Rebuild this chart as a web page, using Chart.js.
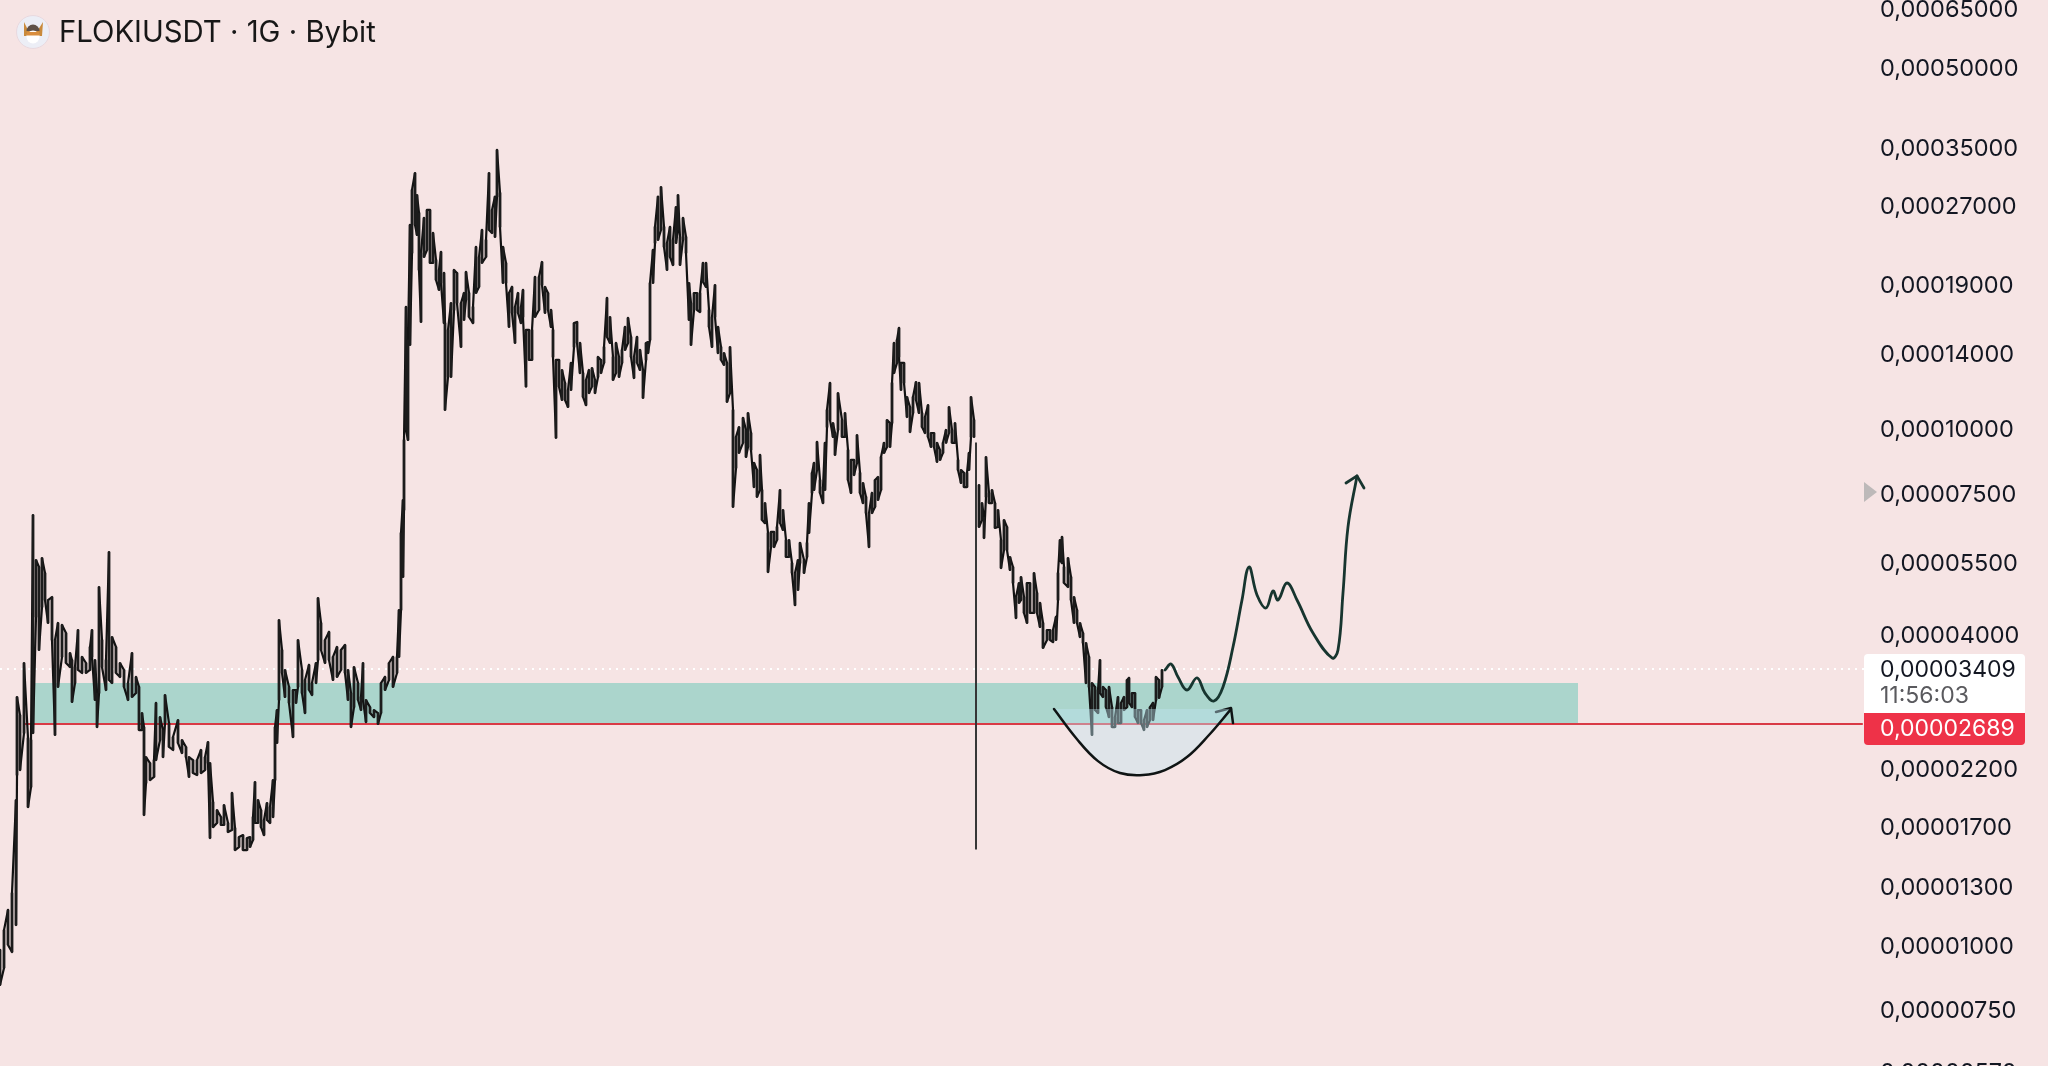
<!DOCTYPE html>
<html><head><meta charset="utf-8">
<style>html,body{margin:0;padding:0;background:#f6e4e4;overflow:hidden}#w{width:2048px;height:1066px}</style>
<script src="https://cdn.jsdelivr.net/npm/chart.js@4"></script>
</head><body><div id="w"><canvas id="c" width="2048" height="1066"></canvas></div>
<script>
// Prices are in units of 0.00000001 USDT
const sessions=[0,4,8,12,16,17,20,24,28,31,
33,36,39,42,45,48,52,55,58,62,
66,70,72,75,78,82,86,90,92,95,
97,99,102,106,109,112,116,120,124,128,
132,136,139,142,144,146,150,154,156,160,
163,165,169,173,178,182,186,189,193,197,
201,205,208,210,213,217,221,224,228,232,
235,239,243,247,250,253,255,258,261,264,
267,270,273,275,277,279,282,285,289,293,
296,298,302,305,309,312,316,318,321,325,
329,333,337,341,345,348,351,354,358,361,
363,366,370,374,378,381,385,389,393,397,
399,401,403,404,406,408,410,412,415,417,
419,421,424,427,430,433,436,439,441,444,
445,448,451,454,457,461,464,466,469,473,
476,479,482,486,489,492,495,497,500,503,
506,509,512,515,518,521,523,526,529,532,
535,539,542,545,548,551,553,556,559,562,
565,568,571,574,577,580,583,586,589,592,
595,598,601,604,607,610,613,616,619,622,
625,628,631,634,637,640,643,646,648,650,
653,655,658,661,664,667,670,673,676,678,
680,683,686,689,691,694,697,700,703,706,
709,712,715,718,721,724,727,730,733,736,
739,743,746,748,751,754,757,760,762,765,
768,771,774,777,780,783,786,789,792,795,
798,800,804,807,809,812,814,817,820,823,
825,827,830,833,835,838,842,845,848,851,
854,857,860,863,866,869,872,875,878,881,
884,887,890,892,894,897,899,901,904,907,
910,913,916,919,922,925,928,931,934,937,
940,943,946,949,952,955,958,961,964,967,
969,971,974,976,979,982,984,986,989,992,
995,998,1001,1004,1007,1010,1013,1016,1019,1021,
1024,1027,1030,1034,1037,1040,1043,1047,1050,1053,
1056,1058,1060,1062,1064,1068,1071,1074,1077,1080,
1083,1086,1089,1092,1095,1098,1100,1103,1106,1109,
1112,1115,1118,1121,1124,1127,1129,1132,1135,1138,
1141,1144,1147,1150,1153,1156,1159,1162];
const highs=[974,1064,1164,1255,1900,3008,2775,3500,2505,2483,
6771,5540,5370,5590,5228,4635,4697,3878,4184,4148,
4000,3660,3547,3438,4055,3597,3500,3759,4055,3547,
3061,4912,3878,3547,5741,3930,3759,3500,3393,3201,
3660,3289,3146,2800,2630,2301,2241,2271,2929,2750,
2596,3035,2678,2516,2714,2483,2407,2301,2271,2271,
2375,2301,2461,2241,1883,1817,1761,1858,1715,1961,
1677,1611,1625,1604,1611,1761,2059,1900,1817,1738,
1875,1842,2077,2630,2838,4240,3709,3393,3146,3103,
3103,3878,3393,3245,3470,3201,3500,4677,4184,3878,
4020,3597,3759,3709,3793,3393,3061,3438,3201,3008,
3500,2968,2875,2838,2800,3201,3289,3500,3597,3597,
4433,6250,7240,9461,17120,14776,24680,28843,31100,28200,
26040,21780,25460,26382,26382,23810,21110,20190,21880,19920,
15930,15450,17420,20190,19920,17420,18220,20010,18220,17120,
22370,21390,24132,23079,31100,26382,28000,34474,28470,22370,
20830,18220,18720,17120,18220,17120,18467,15450,15450,15450,
19570,19570,20920,18720,18220,16891,15450,13516,13516,12926,
12200,11823,13340,15930,16010,14580,12750,12362,12926,13040,
12362,13700,13516,14320,17820,16370,13700,14580,13700,14132,
15660,16300,14980,13700,14980,14132,12926,14580,14640,19050,
22073,24460,28000,29220,24460,22770,24460,23079,26730,28200,
23390,25460,23390,19050,17420,18220,18220,18220,20830,20830,
16891,16370,18880,15660,14320,13940,13340,14320,10815,9590,
10020,10440,9892,10670,9760,8540,8276,8850,7570,7140,
6250,6280,6280,6420,7570,6924,6057,6057,5465,5228,
5540,5980,5540,5980,7140,8170,8540,9380,7915,7670,
9340,10815,12200,10200,9760,11660,10343,10670,9048,8654,
8654,9670,8170,7810,7340,6830,7470,7915,8020,8770,
9340,10343,10200,12200,14580,14776,15590,13340,13340,11460,
10960,11460,12250,12200,10670,10480,11050,9760,9760,9340,
9048,9340,9892,10960,9892,10200,8654,8276,8170,8170,
8930,11460,10343,9340,7740,7140,6710,8770,7470,7570,
7140,6924,6057,6622,6420,5615,5370,4697,5000,5136,
4697,5000,5000,5228,4783,4575,4184,4055,4055,4055,
4298,5228,6057,6140,5370,5590,5136,4697,4433,4184,
4000,3827,3597,3201,3146,3103,3547,3146,3103,3146,
2875,2750,3008,2929,3008,3245,3275,3061,3061,2838,
2838,2714,2838,2875,2929,3289,3245,3393];
const lows=[833,899,996,965,1088,2124,2172,2561,1841,2014,
2561,4298,3709,4492,4635,4184,3878,2539,3146,3597,
3500,3438,2942,3201,3393,3348,3348,3393,3597,2968,
2630,3061,3438,3103,3245,3201,3348,3289,3146,2968,
3008,3061,2596,2596,1777,2050,2077,2106,2271,2483,
2301,2678,2407,2375,2450,2343,2301,2106,2143,2124,
2143,2172,2241,1604,1684,1715,1700,1700,1647,1662,
1520,1541,1520,1520,1541,1590,1715,1715,1684,1625,
1738,1715,1761,2077,2450,2968,3348,3008,2929,2516,
2929,3146,3061,2800,3103,3035,3201,3547,3709,3500,
3547,3245,3289,3393,3348,2968,2630,2875,2968,2838,
2968,2690,2800,2750,2667,2800,3103,3245,3146,3348,
3597,4433,5136,6924,9892,9461,14450,21780,24680,23600,
20190,16010,21390,22073,20830,20830,19309,18467,19050,15930,
10815,12530,12530,16891,17420,14320,16155,17662,16370,15930,
18220,18720,20830,21390,24132,23810,23390,28000,24460,19050,
19050,15660,16670,14580,16670,15930,16370,12000,13516,13516,
16370,16891,18880,16670,16891,15660,13700,9550,12000,11308,
11308,10960,11823,14320,14580,12750,11460,11050,11660,12000,
11660,12530,12750,13340,14980,14580,12362,12750,12530,13340,
14132,14580,13700,12470,13340,12926,11410,13516,13940,14776,
19050,22770,23079,24132,22370,20190,21390,20640,22770,24132,
20640,23079,21780,16155,14450,16891,16891,16740,19140,18720,
15660,14320,16370,13940,13516,13220,11210,11660,7020,8350,
8930,9340,8770,9170,9048,7670,7340,7570,6622,6530,
5250,5870,5870,6057,6530,6334,5615,5615,5228,4530,
4847,5465,5228,5615,6250,7470,7570,8276,7470,7140,
7570,10020,10343,9590,8850,9892,9590,9590,7915,7470,
8090,8540,7470,7140,6830,5870,6830,7020,7240,7570,
8930,9170,9170,10200,12750,13340,13700,11823,12200,10480,
9800,10670,11308,10670,10020,9760,9590,9170,9170,8580,
8654,8930,9340,9760,9340,9340,8276,7810,7670,7670,
8276,9590,9590,1527,6420,6622,6110,7340,7140,7140,
6390,6420,5345,5793,5793,5299,5000,4277,4575,4635,
4375,4184,4375,4375,4375,4110,3743,3878,3878,3843,
3878,4635,5540,5465,5000,4912,4635,4184,4184,3930,
3827,3201,3146,2539,2838,2800,3061,3008,2875,2750,
2630,2630,2678,2678,2838,2875,2929,2875,2750,2678,
2678,2596,2630,2714,2714,2968,2995,3146];

const yTicks=[65000,50000,35000,27000,19000,14000,10000,7500,5500,4000,2200,1700,1300,1000,750,570];

const pathSessions=[1165,1171,1178,1187,1197,1205,1214,1223,1233,1242,1249,1257,1266,1273,1278,1287,1297,1313,1332,1338,1343,1348,1357];
const pathPrices=[3393,3485,3289,3103,3275,3061,2955,3146,3759,4635,5370,4740,4473,4825,4635,5000,4635,4000,3580,3709,4783,6420,8060];
const pathArrowSessions=[1346,1357,1364];
const pathArrowPrices=[7810,8060,7640];

const bowlSessions=[1054,1076,1098,1120,1143,1165,1187,1209,1231];
const bowlPrices=[2850,2505,2260,2143,2124,2172,2301,2539,2850];
const bowlArrowSessions=[1216,1231,1233];
const bowlArrowPrices=[2813,2864,2678];

const zoneSessions=[33,1578];
const zoneTop=3201, zoneBottom=2667;
const lastPrice=3409, lastPriceLabel='0,00003409', countdown='11:56:03';
const linePrice=2667, linePriceLabel='0,00002689';
const title='FLOKIUSDT · 1G · Bybit';
const markerPrice=7500;

const PLOT_W=1864, FONT='Inter';
const pts=(xs,ys)=>xs.map((x,i)=>({x,y:ys[i]}));
const fmt=v=>(v/1e8).toFixed(8).replace('.',',');
const isFlash=i=>highs[i]/lows[i]>4;

// trace the read highs and lows as one jagged line; a lone flash wick stays a thin bar
const trace=[],bars=[],flash=[];
sessions.forEach((x,i)=>{
  const bar={x,y:[lows[i],highs[i]]};
  if(isFlash(i)){flash.push(bar);trace.push({x,y:null});return;}
  bars.push(bar);
  if(i%2){trace.push({x,y:lows[i]},{x,y:highs[i]});}else{trace.push({x,y:highs[i]},{x,y:lows[i]});}
});

const overlay={id:'overlay',afterDraw(ch){
  const c=ch.ctx,y=ch.scales.y;
  c.save();
  // title + logo
  c.fillStyle='#eceef6';c.beginPath();c.arc(33,32,16.5,0,Math.PI*2);c.fill();
  c.strokeStyle='#e8d8de';c.lineWidth=1;c.stroke();
  c.fillStyle='#c98a3c';c.beginPath();c.moveTo(24,22);c.lineTo(28,30);c.lineTo(38,30);c.lineTo(43,22);c.lineTo(42,36);c.lineTo(24,36);c.closePath();c.fill();
  c.fillStyle='#5f5148';c.beginPath();c.arc(33,31,6.5,Math.PI,0);c.fill();
  c.fillStyle='#fff';c.beginPath();c.arc(33,37,6.5,0,Math.PI*2);c.fill();
  c.fillStyle='#d98d3d';c.fillRect(27,32,12,3.5);
  c.fillStyle='#171717';c.font='400 29.3px '+FONT;c.textAlign='left';c.textBaseline='middle';
  c.fillText(title,59,33);
  // last price tag
  c.fillStyle='#fff';c.beginPath();c.roundRect(PLOT_W,654,161,59,[4,4,0,0]);c.fill();
  c.fillStyle='#ee3248';c.beginPath();c.roundRect(PLOT_W,713,161,32,[0,0,4,4]);c.fill();
  c.font='400 23px '+FONT;c.fillStyle='#131722';c.fillText(lastPriceLabel,1880,670);
  c.fillStyle='#5a5a5e';c.fillText(countdown,1880,696);
  c.fillStyle='#fff';c.fillText(linePriceLabel,1880,729);
  // scale marker
  const my=y.getPixelForValue(markerPrice);
  c.fillStyle='#bdb9b9';c.beginPath();c.moveTo(1864,my-10);c.lineTo(1877,my);c.lineTo(1864,my+10);c.closePath();c.fill();
  c.restore();
}};

const lineBase={type:'line',pointRadius:0,borderJoinStyle:'round',borderCapStyle:'round'};
const Y_MIN=580.5, Y_MAX=67270, LABEL_SHIFT=1.0116;
new Chart(document.getElementById('c'),{
  type:'bar',
  data:{datasets:[
    {...lineBase,label:'zone',order:9,data:pts(zoneSessions,[zoneTop,zoneTop]),borderWidth:0,borderColor:'transparent',backgroundColor:'#abd5cc',fill:{value:zoneBottom}},
    {...lineBase,label:'last',order:8,data:pts([0,PLOT_W],[lastPrice,lastPrice]),borderColor:'#ffffff',borderWidth:2,borderDash:[2,5],borderCapStyle:'butt'},
    {...lineBase,label:'level',order:7,data:pts([24,1862],[linePrice,linePrice]),borderColor:'#d93a45',borderWidth:2.2},
    {...lineBase,label:'bowl',order:3,data:pts(bowlSessions,bowlPrices),tension:0.4,borderColor:'#0f1414',borderWidth:2.5,backgroundColor:'rgba(190,228,240,0.42)',fill:{value:2850}},
    {...lineBase,label:'bowlArrow',order:3,data:pts(bowlArrowSessions,bowlArrowPrices),borderColor:'#0f1414',borderWidth:2.5},
    {type:'bar',label:'FLOKIUSDT',order:4,grouped:false,data:bars,backgroundColor:'#1c1c1c',borderWidth:0,barThickness:2},
    {type:'bar',label:'flash wick',order:4,grouped:false,data:flash,backgroundColor:'#333333',borderWidth:0,barThickness:1.3},
    {...lineBase,label:'trace',order:4,data:trace,borderColor:'#121212',borderWidth:2.2,spanGaps:false},
    {...lineBase,label:'path',order:2,data:pts(pathSessions,pathPrices),tension:0.4,borderColor:'#17352f',borderWidth:2.8},
    {...lineBase,label:'pathArrow',order:2,data:pts(pathArrowSessions,pathArrowPrices),borderColor:'#17352f',borderWidth:2.8}
  ]},
  options:{
    responsive:false,animation:false,
    layout:{padding:0},
    plugins:{legend:{display:false},tooltip:{enabled:false},title:{display:false}},
    scales:{
      x:{type:'linear',display:false,min:0,max:PLOT_W,offset:false,grid:{display:false}},
      y:{type:'logarithmic',display:false,position:'right',min:Y_MIN,max:Y_MAX},
      yAxis:{type:'logarithmic',position:'right',min:Y_MIN*LABEL_SHIFT,max:Y_MAX*LABEL_SHIFT,
        grid:{display:false,drawTicks:false},border:{display:false},
        afterBuildTicks(s){s.ticks=yTicks.map(value=>({value}));},
        afterFit(s){s.width=2048-PLOT_W;s.paddingTop=0;s.paddingBottom=0;},
        ticks:{autoSkip:false,padding:16,crossAlign:'near',color:'#131722',font:{family:FONT,size:23.5},callback:v=>fmt(v)}
      }
    }
  },
  plugins:[overlay]
});
</script></body></html>
